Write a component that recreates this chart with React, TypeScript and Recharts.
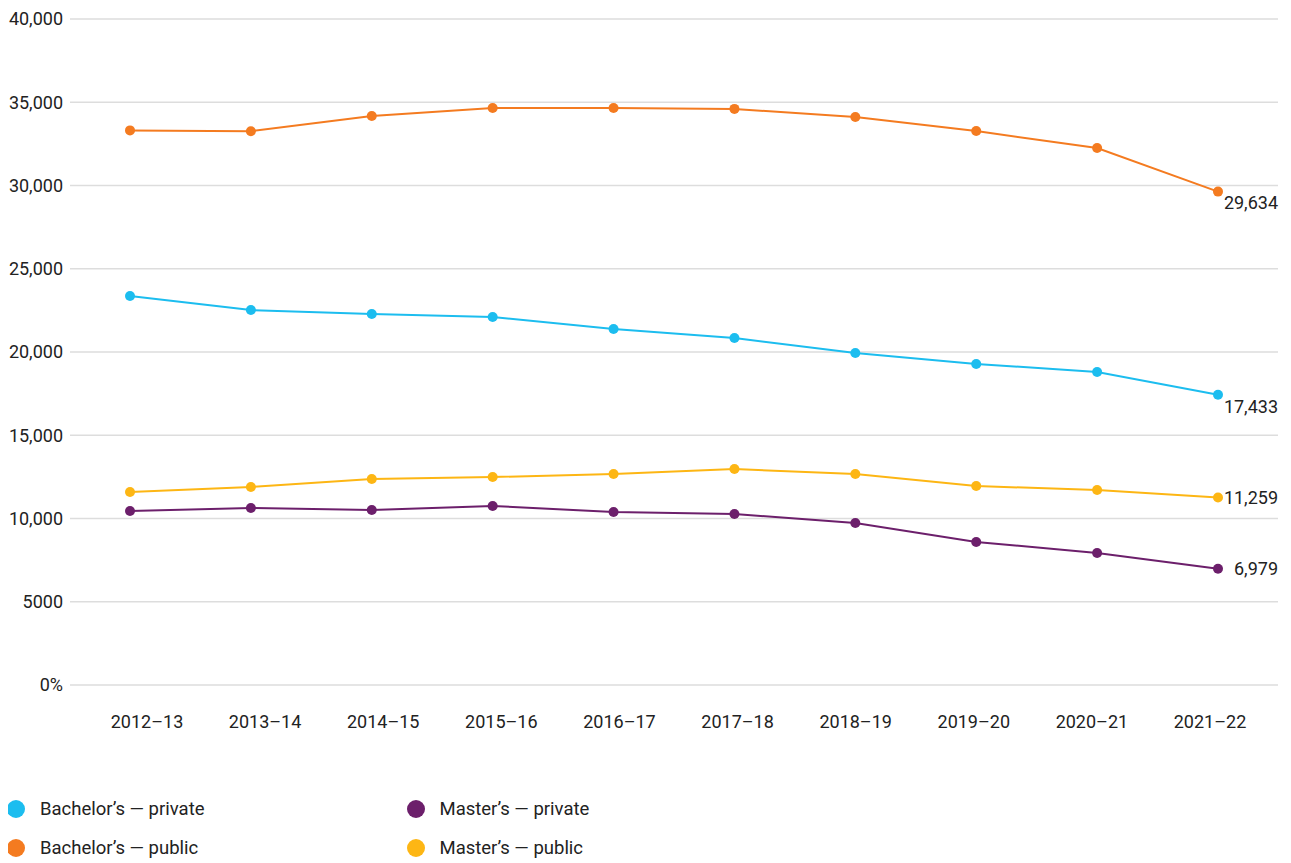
import React from "react";
import { LineChart, Line, XAxis, YAxis, CartesianGrid } from "recharts";

const categories = ["2012–13", "2013–14", "2014–15", "2015–16", "2016–17", "2017–18", "2018–19", "2019–20", "2020–21", "2021–22"];
const bachelorsPrivate = [23360, 22520, 22280, 22100, 21380, 20840, 19940, 19280, 18800, 17433];
const bachelorsPublic = [33310, 33260, 34170, 34650, 34650, 34600, 34110, 33270, 32250, 29634];
const mastersPrivate = [10450, 10630, 10510, 10750, 10390, 10270, 9730, 8590, 7930, 6979];
const mastersPublic = [11590, 11890, 12370, 12490, 12670, 12970, 12670, 11950, 11710, 11259];
const yTicks = [0, 5000, 10000, 15000, 20000, 25000, 30000, 35000, 40000];

const data = categories.map((c, i) => ({
  year: c,
  bachelorsPrivate: bachelorsPrivate[i],
  bachelorsPublic: bachelorsPublic[i],
  mastersPrivate: mastersPrivate[i],
  mastersPublic: mastersPublic[i],
}));

const series = [
  { key: "bachelorsPrivate", name: "Bachelor’s — private", color: "#1CBDEF", dy: 12 },
  { key: "bachelorsPublic", name: "Bachelor’s — public", color: "#F47B20", dy: 11 },
  { key: "mastersPrivate", name: "Master’s — private", color: "#6C1F6B", dy: 0 },
  { key: "mastersPublic", name: "Master’s — public", color: "#FDB614", dy: 0 },
];

const FONT = "Roboto, 'Noto Sans', sans-serif";

const fmtY = (v: number) => (v === 0 ? "0%" : v === 5000 ? "5000" : v.toLocaleString("en-US"));

const makeLabel = (dy: number) => (props: any) => {
  const { x, y, value, index } = props;
  if (index !== categories.length - 1) return null;
  return (
    <text x={x + 60} y={y + dy} dy="0.355em" textAnchor="end" fontSize={18} fill="#222" fontFamily={FONT}>
      {Number(value).toLocaleString("en-US")}
    </text>
  );
};

const legendLayout = [
  { idx: 0, left: 7, top: 800 },
  { idx: 1, left: 7, top: 839 },
  { idx: 2, left: 406.5, top: 800 },
  { idx: 3, left: 406.5, top: 839 },
];

export default function App() {
  return (
    <div style={{ position: "relative", width: 1283, height: 855, fontFamily: FONT }}>
      <LineChart width={1283} height={740} data={data} margin={{ top: 11, right: 13, bottom: 0, left: 0 }}>
        <CartesianGrid vertical={false} stroke="#dddddd" strokeWidth={1.5} />
        <XAxis
          xAxisId="main"
          dataKey="year"
          hide
          padding={{ left: 60, right: 60 }}
        />
        <XAxis
          xAxisId="labels"
          dataKey="year"
          axisLine={false}
          tickLine={false}
          tickSize={0}
          tickMargin={30}
          height={63}
          interval={0}
          padding={{ left: 77, right: 68 }}
          tick={{ fontSize: 18, fill: "#222", fontFamily: FONT }}
        />
        <YAxis
          domain={[0, 40000]}
          ticks={yTicks}
          tickFormatter={fmtY}
          axisLine={false}
          tickLine={false}
          tickSize={0}
          tickMargin={7}
          width={62}
          tick={{ fontSize: 18, fill: "#222", fontFamily: FONT }}
        />
        {series.map((s) => (
          <Line
            key={s.key}
            xAxisId="main"
            dataKey={s.key}
            name={s.name}
            stroke={s.color}
            strokeWidth={2}
            dot={{ r: 5, fill: s.color, stroke: s.color, strokeWidth: 0 }}
            activeDot={false}
            isAnimationActive={false}
            label={makeLabel(s.dy)}
          />
        ))}
      </LineChart>
      {legendLayout.map((l) => {
        const s = series[l.idx];
        return (
          <div key={s.key} style={{ position: "absolute", left: l.left - 8, top: l.top - 8, display: "flex", alignItems: "center", height: 18 }}>
            <span style={{ display: "inline-block", width: 18, height: 18, borderRadius: 9, background: s.color }} />
            <span style={{ marginLeft: 15, fontSize: 18.5, color: "#222", whiteSpace: "nowrap" }}>{s.name}</span>
          </div>
        );
      })}
    </div>
  );
}
